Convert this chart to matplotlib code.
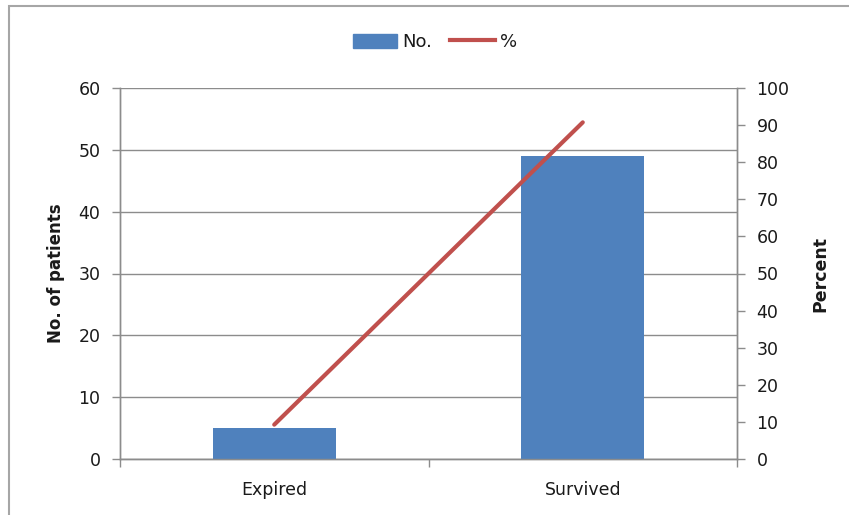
import matplotlib.pyplot as plt
from matplotlib.patches import Rectangle
from matplotlib.lines import Line2D

categories = ["Expired", "Survived"]
patients = [5, 49]
percent = [9.26, 90.74]

W, H = 849, 515
fig = plt.figure(figsize=(W / 100, H / 100), dpi=100)
plt.rcParams['font.family'] = ['DejaVu Sans']

# chart-area border (runs off the right/bottom edge)
fig.patches.append(Rectangle((9 / W, -0.1), 1.2, 1 - 6 / H + 0.1,
                             transform=fig.transFigure, fill=False,
                             edgecolor="#a6a6a6", linewidth=1.5))

ax = fig.add_axes([120 / W, 1 - 459 / H, (737 - 120) / W, (459 - 88) / H])
ax2 = ax.twinx()

grid_c = "#8c8c8c"
text_c = "#1a1a1a"
bar_c = "#4f81bd"
line_c = "#c0504d"

x = list(range(len(categories)))
ax.bar(x, patients, width=0.4, color=bar_c, zorder=3)
ax.set_xlim(-0.5, len(categories) - 0.5)
ax.set_ylim(0, 60)
ax.set_yticks(range(0, 61, 10))
ax.yaxis.grid(True, color=grid_c, linewidth=1, zorder=0)
ax.set_axisbelow(True)

ax2.plot(x, percent, color=line_c, linewidth=3, solid_capstyle="round", zorder=4)
ax2.set_ylim(0, 100)
ax2.set_yticks(range(0, 101, 10))

ax.set_xticks(x)
ax.set_xticklabels(categories)
ax.set_xticks([i - 0.5 for i in range(len(categories) + 1)], minor=True)
ax.tick_params(axis="x", which="major", length=0, pad=16, labelsize=12.5, labelcolor=text_c)
ax.tick_params(axis="x", which="minor", length=6, color=grid_c, width=1)
ax.tick_params(axis="y", length=6, color=grid_c, width=1, labelsize=12.5, labelcolor=text_c, pad=8)
ax2.tick_params(axis="y", length=6, color=grid_c, width=1, labelsize=12.5, labelcolor=text_c, pad=8)

for a in (ax, ax2):
    a.spines["top"].set_visible(False)
    for s in ("left", "right", "bottom"):
        a.spines[s].set_color(grid_c)
        a.spines[s].set_linewidth(1)

ax.set_ylabel("No. of patients", fontsize=12, fontweight="bold", color=text_c, labelpad=10)
ax2.set_ylabel("Percent", fontsize=12.5, fontweight="bold", color=text_c, labelpad=16)

handles = [Rectangle((0, 0), 1, 1, color=bar_c),
           Line2D([], [], color=line_c, linewidth=3)]
fig.legend(handles, ["No.", "%"], loc="center", bbox_to_anchor=(435 / W, 1 - 42 / H),
           ncol=2, frameon=False, fontsize=13, handlelength=2.45, handleheight=0.85,
           handletextpad=0.28, columnspacing=1.0, labelcolor=text_c)

fig.savefig("out.png", dpi=100)
